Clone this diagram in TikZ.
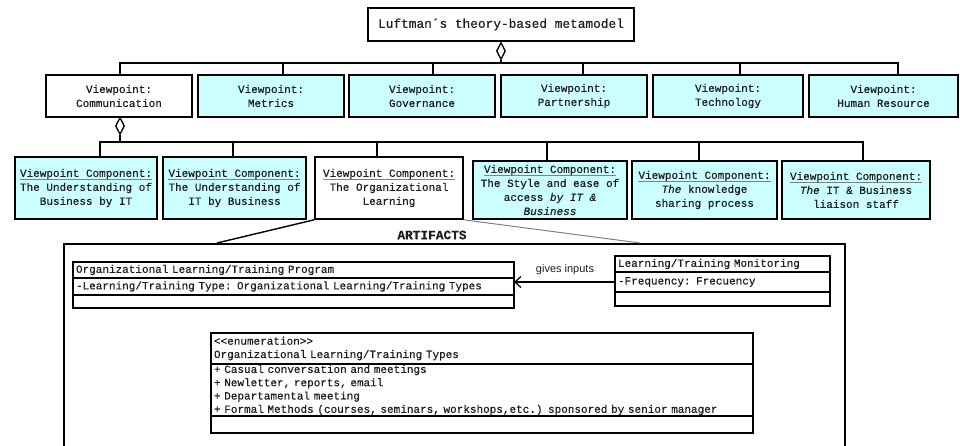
\documentclass[tikz,border=0pt]{standalone}
\usepackage{fontspec}
\setmainfont{Liberation Mono}[FakeBold=0.5]
\newfontfamily\sansfont{Liberation Sans}
\usetikzlibrary{shapes.geometric,arrows.meta}
\definecolor{vpcyan}{HTML}{CCFFFF}
\definecolor{ink}{HTML}{1E1E1E}
\newcommand{\vcul}{\rlap{\color{gray}\rule[-2.6pt]{132pt}{0.9pt}}Viewpoint Component:}
\begin{document}
\begin{tikzpicture}[x=1pt,y=-1pt,
  every node/.style={text=ink},
  box/.style={draw=black, line width=1.6pt, inner sep=0pt, align=center, font=\fontsize{11}{14}\selectfont},
  cbox/.style={box, fill=vpcyan},
  wbox/.style={box, fill=white},
  conn/.style={draw=black, line width=1.4pt},
  agg/.style={diamond, draw=black, fill=white, line width=1.3pt, inner sep=0pt, minimum width=9pt, minimum height=17pt},
  crow/.style={draw=black, line width=1.3pt, outer sep=0pt, anchor=north west, text width=#1, align=left, inner xsep=3pt, inner ysep=0pt, font=\fontsize{11}{13.3}\selectfont},
]
\useasboundingbox (0,0) rectangle (960,446);

% root
\node[wbox, minimum width=266pt, minimum height=33pt, font=\fontsize{12.8}{15}\selectfont] (root) at (501,24.5) {Luftman´s theory-based metamodel};
\node[agg] (d1) at (501,51) {};
\coordinate (h1) at (501,63);
\draw[conn] (d1.south) -- (h1);

% viewpoints
\node[wbox, minimum width=146pt, minimum height=42pt] (vp1) at (119,96) {Viewpoint:\\Communication};
\node[cbox, minimum width=146pt, minimum height=42pt] (vp2) at (271,96) {Viewpoint:\\Metrics};
\node[cbox, minimum width=146pt, minimum height=42pt] (vp3) at (422,96) {Viewpoint:\\Governance};
\node[cbox, minimum width=146pt, minimum height=42pt] (vp4) at (574,96) {Viewpoint:\\Partnership};
\node[cbox, minimum width=150pt, minimum height=42pt] (vp5) at (728,96) {Viewpoint:\\Technology};
\node[cbox, minimum width=149pt, minimum height=42pt] (vp6) at (883.5,96) {Viewpoint:\\Human Resource};

\draw[conn] (h1) -| (120,0 |- vp1.north);
\draw[conn] (h1) -| (283,0 |- vp2.north);
\draw[conn] (h1) -| (433,0 |- vp3.north);
\draw[conn] (h1) -| (583,0 |- vp4.north);
\draw[conn] (h1) -| (740,0 |- vp5.north);
\draw[conn] (h1) -| (898,0 |- vp6.north);

% communication aggregation
\node[agg] (d2) at (120,126) {};
\coordinate (h2) at (120,142);
\draw[conn] (d2.south) -- (h2);

% components
\node[cbox, minimum width=142pt, minimum height=62pt] (cA) at (86,188) {\vcul\\The Understanding of\\Business by IT};
\node[cbox, minimum width=143pt, minimum height=62pt] (cB) at (234.5,188) {\vcul\\The Understanding of\\IT by Business};
\node[wbox, minimum width=148pt, minimum height=62pt] (cC) at (389,188) {\vcul\\The Organizational\\Learning};
\node[cbox, minimum width=154pt, minimum height=58pt] (cD) at (550,190) {\vcul\\The Style and ease of\\access \textit{by IT \&}\\\textit{Business}};
\node[cbox, minimum width=145pt, minimum height=58pt] (cE) at (704.5,190) {\vcul\\\textit{The} knowledge\\sharing process};
\node[cbox, minimum width=148pt, minimum height=58pt] (cF) at (856,190) {\vcul\\\textit{The} IT \& Business\\liaison staff};

\draw[conn] (h2) -| (100,0 |- cA.north);
\draw[conn] (h2) -| (233,0 |- cB.north);
\draw[conn] (h2) -| (377,0 |- cC.north);
\draw[conn] (h2) -| (547,0 |- cD.north);
\draw[conn] (h2) -| (699,0 |- cE.north);
\draw[conn] (h2) -| (863,0 |- cF.north);

% artifacts frame
\node[draw=black, line width=1.5pt, anchor=north west, minimum width=781pt, minimum height=230pt, inner sep=0pt] (art) at (63,243) {};
\node[font=\bfseries\fontsize{12.8}{15}\selectfont] (artlbl) at (432,235) {ARTIFACTS};
\draw[conn] (cC.south west) -- (217,0 |- art.north);
\draw[draw=gray, line width=1pt] (cC.south east) -- (640,0 |- art.north);

% program class
\node[crow=435pt, minimum height=16pt] (p1) at (73,262) {Organizational Learning/Training Program};
\node[crow=435pt, minimum height=17pt] (p2) at (p1.south west) {-Learning/Training Type: Organizational Learning/Training Types};
\node[crow=435pt, minimum height=13pt] (p3) at (p2.south west) {};

% monitoring class
\node[crow=209pt, minimum height=16pt] (m1) at (615,256) {Learning/Training Monitoring};
\node[crow=209pt, minimum height=20pt] (m2) at (m1.south west) {-Frequency: Frecuency};
\node[crow=209pt, minimum height=14pt] (m3) at (m2.south west) {};

\draw[conn, line width=1.3pt, -{Straight Barb[length=6pt,width=11pt]}] (m2.west) -- (m2.west -| p2.east);
\node[font=\sansfont\fontsize{11}{13}\selectfont] (gl) at (565,270) {gives inputs};

% enumeration
\node[crow=536pt, minimum height=31pt] (e1) at (211,333) {<{}<enumeration>{}>\\Organizational Learning/Training Types};
\node[crow=536pt, minimum height=52pt] (e2) at (e1.south west) {+ Casual conversation and meetings\\+ Newletter, reports, email\\+ Departamental meeting\\+ Formal Methods (courses, seminars, workshops,etc.) sponsored by senior manager};
\node[crow=536pt, minimum height=17pt] (e3) at (e2.south west) {};

\end{tikzpicture}
\end{document}
